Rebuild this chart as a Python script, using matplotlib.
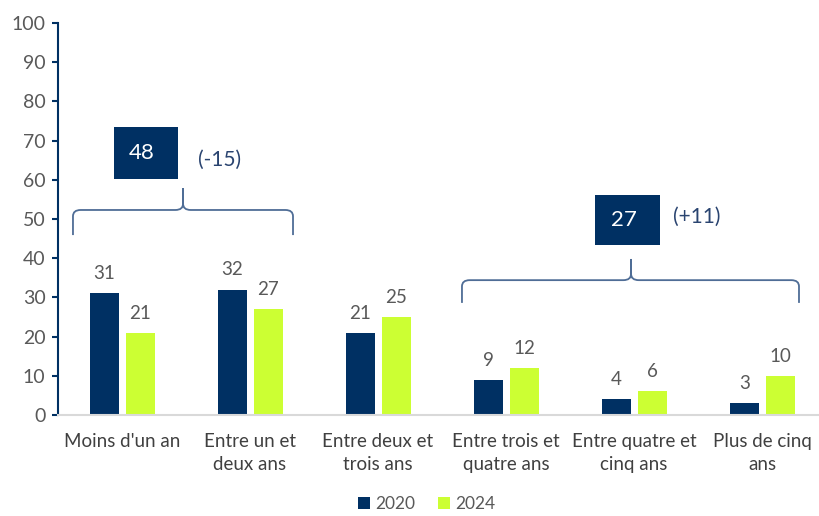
import numpy as np
import matplotlib.pyplot as plt
from matplotlib.path import Path
from matplotlib.patches import PathPatch, Rectangle

plt.rcParams['font.family'] = ['Lato', 'DejaVu Sans']

categories = ["Moins d'un an", "Entre un et\ndeux ans", "Entre deux et\ntrois ans",
              "Entre trois et\nquatre ans", "Entre quatre et\ncinq ans", "Plus de cinq\nans"]
v2020 = [31, 32, 21, 9, 4, 3]
v2024 = [21, 27, 25, 12, 6, 10]
group_totals = ["48", "27"]
group_changes = ["(-15)", "(+11)"]

navy = '#003063'
lime = '#CCFF33'
gray = '#595959'
brace_col = '#4F6D96'


def brace(ax, x0, x1, xm, y_end, y_line, y_tip, rx=0.06, ry=1.6):
    verts = [(x0, y_end), (x0, y_line - ry), (x0, y_line), (x0 + rx, y_line),
             (xm - rx, y_line), (xm, y_line), (xm, y_line + ry), (xm, y_tip),
             (xm, y_line + ry), (xm, y_line), (xm + rx, y_line),
             (x1 - rx, y_line), (x1, y_line), (x1, y_line - ry), (x1, y_end)]
    codes = [Path.MOVETO, Path.LINETO, Path.CURVE3, Path.CURVE3,
             Path.LINETO, Path.CURVE3, Path.CURVE3, Path.LINETO,
             Path.LINETO, Path.CURVE3, Path.CURVE3,
             Path.LINETO, Path.CURVE3, Path.CURVE3, Path.LINETO]
    ax.add_patch(PathPatch(Path(verts, codes), fill=False, edgecolor=brace_col,
                           lw=1.3, clip_on=False))


fig = plt.figure(figsize=(8.19, 5.16), dpi=100)
ax = fig.add_axes([58/819, 101/516, 768/819, 392/516])

x = np.arange(len(categories))
w = 0.227
b1 = ax.bar(x - 0.138, v2020, w, color=navy, label='2020')
b2 = ax.bar(x + 0.143, v2024, w, color=lime, label='2024')

for rects, vals in [(b1, v2020), (b2, v2024)]:
    for r, v in zip(rects, vals):
        ax.annotate(str(v), (r.get_x() + r.get_width()/2, v), xytext=(0, 8),
                    textcoords='offset points', ha='center', va='bottom',
                    fontsize=13.5, color=gray)

ax.set_xlim(-0.5, 5.5)
ax.set_ylim(0, 100)
ax.set_yticks(np.arange(0, 101, 10))
ax.set_xticks(x)
ax.set_xticklabels(categories, linespacing=1.4)
ax.tick_params(axis='x', length=0, pad=13, labelsize=13.5, labelcolor='#404040')
ax.tick_params(axis='y', length=4, width=1.5, color=navy, pad=5,
               labelsize=14, labelcolor=gray)
for s in ['top', 'right']:
    ax.spines[s].set_visible(False)
ax.spines['left'].set_color(navy)
ax.spines['left'].set_linewidth(1.5)
ax.spines['bottom'].set_color('#D9D9D9')
ax.spines['bottom'].set_linewidth(1.5)

# group annotations
brace(ax, -0.383, 1.336, 0.477, 45.9, 52.3, 57.9)
brace(ax, 2.656, 5.289, 3.977, 28.6, 34.4, 39.8)

boxes = [(-0.0625, 60.2, 0.5, 13.3, 0.766, -1.85),
         (3.695, 43.4, 0.508, 12.7, 4.49, 0.75)]
for (bx, by, bw, bh, tx, dy), tot, chg in zip(boxes, group_totals, group_changes):
    ax.add_patch(Rectangle((bx, by), bw, bh, facecolor=navy, edgecolor='none'))
    ax.text(bx + bw/2 - 0.03, by + bh/2, tot, ha='center', va='center',
            fontsize=16, color='white')
    ax.text(tx, by + bh/2 + dy, chg, ha='center', va='center',
            fontsize=15, color='#2A4470')

fig.legend(handles=[b1, b2], loc='lower center', bbox_to_anchor=(0.521, -0.022),
           ncol=2, frameon=False, fontsize=12.5, handlelength=0.7, handleheight=0.7,
           handletextpad=0.3, columnspacing=1.3, labelcolor=gray)

fig.savefig('out.png', dpi=100)
